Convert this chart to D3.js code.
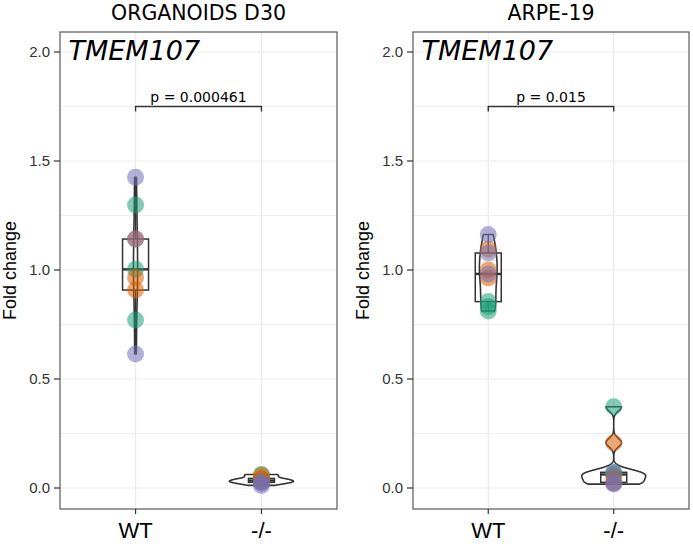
<!DOCTYPE html>
<html>
<head>
<meta charset="utf-8">
<script src="https://cdn.jsdelivr.net/npm/d3@7"></script>
<style>
  body { margin: 0; background: #fff; }
  svg { display: block; }
</style>
</head>
<body>
<svg id="chart" width="693" height="547"></svg>
<script>
// Categories on the x axis.
var categories = ['WT', '-/-'];

// Replicate colours (Dark2).
var replicateColors = ['#1b9e77', '#d95f02', '#7570b3'];

// Y axis ticks.
var yMajorTicks = [0, 0.5, 1.0, 1.5, 2.0];
var yMinorTicks = [0.25, 0.75, 1.25, 1.75];

// ORGANOIDS D30 fold changes and replicate index of each point.
var organoidWtValues = [1.298, 1.003, 0.771, 0.966, 0.908, 1.142, 1.425, 0.615, 1.142];
var organoidWtReps = [0, 0, 0, 1, 1, 1, 2, 2, 2];
var organoidKoValues = [0.062, 0.040, 0.034, 0.058, 0.044, 0.030, 0.026, 0.022, 0.012];
var organoidKoReps = [0, 0, 0, 1, 1, 1, 2, 2, 2];

// ARPE-19 fold changes and replicate index of each point.
var arpeWtValues = [0.855, 0.832, 0.812, 1.095, 1.000, 0.963, 1.163, 1.078, 0.982];
var arpeWtReps = [0, 0, 0, 1, 1, 1, 2, 2, 2];
var arpeKoValues = [0.373, 0.070, 0.062, 0.208, 0.050, 0.026, 0.072, 0.022, 0.018];
var arpeKoReps = [0, 0, 0, 1, 1, 1, 2, 2, 2];

// Panel titles and p values.
var panelTitles = ['ORGANOIDS D30', 'ARPE-19'];
var pLabels = ['p = 0.000461', 'p = 0.015'];
var geneLabel = 'TMEM107';

// Constants.
var kTop = 32;
var kBottom = 509;
var kPanelLefts = [60, 413];
var kPanelRights = [337, 689];
var kViolinWidth = 64;
var kBoxWidth = 26;
var kPointRadius = 8.5;
var kPointAlpha = 0.55;
var kDark = '#333333';
var kGrid = '#ebebeb';
var kSansTitle = '"DejaVu Sans", Verdana, sans-serif';
var kSansAxis = '"Liberation Sans", Arial, sans-serif';

var svg = d3.select('#chart');

var y = d3.scaleLinear().domain([0, 2]).range([488, 52]);

// Silverman's rule of thumb, as R's bw.nrd0.
function BandwidthNrd0(values)
{
  var sorted = values.slice().sort(d3.ascending);
  var sd = d3.deviation(sorted);
  var iqr = d3.quantileSorted(sorted, 0.75) - d3.quantileSorted(sorted, 0.25);
  var lo = Math.min(sd, iqr / 1.34);
  return 0.9 * lo * Math.pow(sorted.length, -0.2);
}

// Gaussian kernel density over the range of the data (trimmed violin).
function Density(values)
{
  var bw = BandwidthNrd0(values);
  var lo = d3.min(values);
  var hi = d3.max(values);
  var n = 512;
  var out = [];
  for (var i = 0; i < n; ++i)
  {
    var v = lo + (hi - lo) * i / (n - 1);
    var sum = 0;
    values.forEach(function(xi) {
      var u = (v - xi) / bw;
      sum += Math.exp(-0.5 * u * u);
    });
    out.push({ v: v, d: sum / (values.length * bw * Math.sqrt(2 * Math.PI)) });
  }
  return out;
}

// Draw one panel.
// @param index Panel index.
// @param groups Array of {values, reps} in category order.
function DrawPanel(index, groups)
{
  var left = kPanelLefts[index];
  var right = kPanelRights[index];
  var g = svg.append('g');

  var x = d3.scalePoint().domain(categories).range([left, right]).padding(0.6);

  // Grid.
  g.selectAll('line.minor').data(yMinorTicks).enter().append('line')
    .attr('x1', left).attr('x2', right)
    .attr('y1', function(d) { return y(d); })
    .attr('y2', function(d) { return y(d); })
    .attr('stroke', kGrid).attr('stroke-width', 0.9);
  g.selectAll('line.major').data(yMajorTicks).enter().append('line')
    .attr('x1', left).attr('x2', right)
    .attr('y1', function(d) { return y(d); })
    .attr('y2', function(d) { return y(d); })
    .attr('stroke', kGrid).attr('stroke-width', 1.2);
  g.selectAll('line.vgrid').data(categories).enter().append('line')
    .attr('x1', function(d) { return x(d); })
    .attr('x2', function(d) { return x(d); })
    .attr('y1', kTop).attr('y2', kBottom)
    .attr('stroke', kGrid).attr('stroke-width', 1.2);

  // Violins, scaled by area across the panel.
  var densities = groups.map(function(group) { return Density(group.values); });
  var maxDensity = d3.max(densities, function(dens) {
    return d3.max(dens, function(p) { return p.d; });
  });
  densities.forEach(function(dens, i) {
    var cx = x(categories[i]);
    var area = d3.area()
      .x0(function(p) { return cx - p.d / maxDensity * kViolinWidth / 2; })
      .x1(function(p) { return cx + p.d / maxDensity * kViolinWidth / 2; })
      .y(function(p) { return y(p.v); });
    g.append('path')
      .attr('d', area(dens))
      .attr('fill', '#ffffff')
      .attr('stroke', kDark)
      .attr('stroke-width', 1.6)
      .attr('stroke-linejoin', 'round');
  });

  // Box plots (no outliers drawn).
  groups.forEach(function(group, i) {
    var cx = x(categories[i]);
    var sorted = group.values.slice().sort(d3.ascending);
    var q1 = d3.quantileSorted(sorted, 0.25);
    var med = d3.quantileSorted(sorted, 0.5);
    var q3 = d3.quantileSorted(sorted, 0.75);
    var iqr = q3 - q1;
    var lowW = d3.min(sorted.filter(function(v) { return v >= q1 - 1.5 * iqr; }));
    var highW = d3.max(sorted.filter(function(v) { return v <= q3 + 1.5 * iqr; }));
    g.append('line')
      .attr('x1', cx).attr('x2', cx)
      .attr('y1', y(q3)).attr('y2', y(highW))
      .attr('stroke', kDark).attr('stroke-width', 1.3);
    g.append('line')
      .attr('x1', cx).attr('x2', cx)
      .attr('y1', y(q1)).attr('y2', y(lowW))
      .attr('stroke', kDark).attr('stroke-width', 1.3);
    g.append('rect')
      .attr('x', cx - kBoxWidth / 2)
      .attr('y', y(q3))
      .attr('width', kBoxWidth)
      .attr('height', y(q1) - y(q3))
      .attr('fill', 'none')
      .attr('stroke', kDark)
      .attr('stroke-width', 1.5);
    g.append('line')
      .attr('x1', cx - kBoxWidth / 2).attr('x2', cx + kBoxWidth / 2)
      .attr('y1', y(med)).attr('y2', y(med))
      .attr('stroke', kDark).attr('stroke-width', 2.4);
  });

  // Points.
  groups.forEach(function(group, i) {
    var cx = x(categories[i]);
    g.selectAll(null).data(group.values).enter().append('circle')
      .attr('cx', cx)
      .attr('cy', function(d) { return y(d); })
      .attr('r', kPointRadius)
      .attr('fill', function(d, j) { return replicateColors[group.reps[j]]; })
      .attr('fill-opacity', kPointAlpha);
  });

  // Panel border.
  g.append('rect')
    .attr('x', left).attr('y', kTop)
    .attr('width', right - left).attr('height', kBottom - kTop)
    .attr('fill', 'none').attr('stroke', '#666666').attr('stroke-width', 1.3);

  // Y axis ticks and labels.
  var yAxis = g.append('g');
  yMajorTicks.forEach(function(t) {
    yAxis.append('line')
      .attr('x1', left - 6).attr('x2', left)
      .attr('y1', y(t)).attr('y2', y(t))
      .attr('stroke', kDark).attr('stroke-width', 1.2);
    yAxis.append('text')
      .attr('x', left - 10).attr('y', y(t) + 5)
      .attr('text-anchor', 'end')
      .style('font-family', kSansAxis).style('font-size', '15px')
      .attr('fill', '#333333')
      .text(d3.format('.1f')(t));
  });

  // X axis ticks and labels.
  categories.forEach(function(c) {
    g.append('line')
      .attr('x1', x(c)).attr('x2', x(c))
      .attr('y1', kBottom).attr('y2', kBottom + 5)
      .attr('stroke', kDark).attr('stroke-width', 1.2);
    g.append('text')
      .attr('x', x(c)).attr('y', 538)
      .attr('text-anchor', 'middle')
      .style('font-family', kSansAxis).style('font-size', '22px')
      .attr('fill', '#000000')
      .text(c);
  });

  // Y title.
  g.append('text')
    .attr('transform', 'translate(' + (left - 44) + ',' + ((kTop + kBottom) / 2) + ') rotate(-90)')
    .attr('text-anchor', 'middle')
    .style('font-family', kSansAxis).style('font-size', '18px')
    .attr('fill', '#000000')
    .text('Fold change');

  // Panel title.
  g.append('text')
    .attr('x', (left + right) / 2).attr('y', 20)
    .attr('text-anchor', 'middle')
    .style('font-family', kSansTitle).style('font-size', '20.5px')
    .attr('fill', '#000000')
    .text(panelTitles[index]);

  // Gene label.
  g.append('text')
    .attr('x', left + 8.5).attr('y', 60)
    .style('font-family', kSansTitle).style('font-size', '27px')
    .style('font-style', 'italic')
    .attr('fill', '#000000')
    .text(geneLabel);

  // Significance bracket.
  var x1 = x(categories[0]);
  var x2 = x(categories[1]);
  var by = 106.5;
  g.append('path')
    .attr('d', 'M' + x1 + ',' + (by + 5) + 'V' + by + 'H' + x2 + 'V' + (by + 5))
    .attr('fill', 'none').attr('stroke', kDark).attr('stroke-width', 1.4);
  g.append('text')
    .attr('x', (x1 + x2) / 2).attr('y', by - 5)
    .attr('text-anchor', 'middle')
    .style('font-family', kSansTitle).style('font-size', '14px')
    .attr('fill', '#000000')
    .text(pLabels[index]);
}

DrawPanel(0, [
  { values: organoidWtValues, reps: organoidWtReps },
  { values: organoidKoValues, reps: organoidKoReps }
]);
DrawPanel(1, [
  { values: arpeWtValues, reps: arpeWtReps },
  { values: arpeKoValues, reps: arpeKoReps }
]);
</script>
</body>
</html>
